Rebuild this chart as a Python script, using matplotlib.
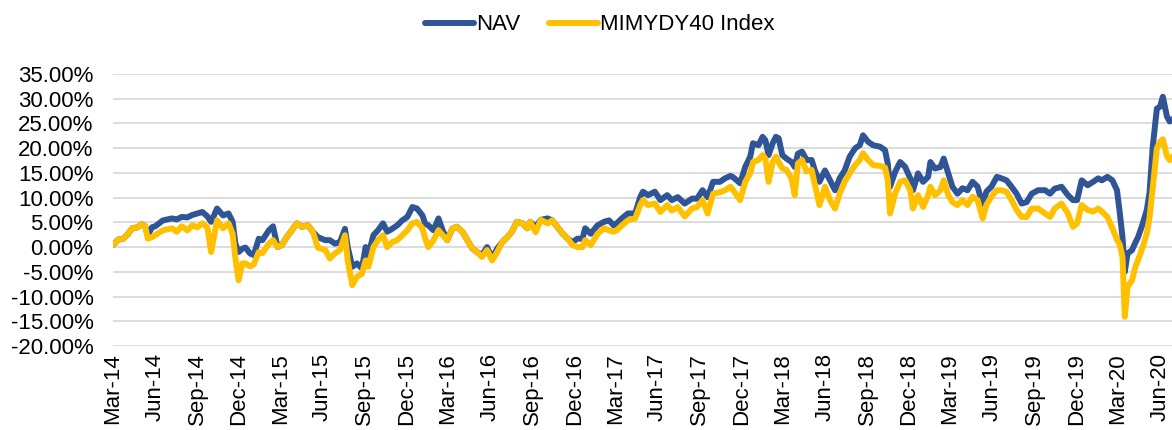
import matplotlib
matplotlib.use("Agg")
import matplotlib.pyplot as plt
import matplotlib.dates as mdates
from matplotlib.ticker import MultipleLocator, FuncFormatter
import pandas as pd

plt.rcParams['font.family'] = ['Liberation Sans', 'DejaVu Sans']

dates = [
    "2014-03-01", "2014-03-12", "2014-03-23", "2014-04-03", "2014-04-12", "2014-04-23",
    "2014-05-03", "2014-05-10", "2014-05-16", "2014-05-25", "2014-06-01", "2014-06-18",
    "2014-07-08", "2014-07-18", "2014-07-29", "2014-08-10", "2014-08-21", "2014-09-01",
    "2014-09-12", "2014-09-23", "2014-10-01", "2014-10-14", "2014-10-27", "2014-11-08",
    "2014-11-17", "2014-11-23", "2014-11-30", "2014-12-08", "2014-12-15", "2014-12-25",
    "2015-01-02", "2015-01-13", "2015-01-21", "2015-02-04", "2015-02-13", "2015-02-23",
    "2015-03-04", "2015-03-15", "2015-04-06", "2015-04-17", "2015-04-30", "2015-05-11",
    "2015-05-22", "2015-06-07", "2015-06-17", "2015-06-28", "2015-07-09", "2015-07-20",
    "2015-07-26", "2015-08-05", "2015-08-15", "2015-08-26", "2015-09-03", "2015-09-09",
    "2015-09-20", "2015-09-30", "2015-10-11", "2015-10-20", "2015-10-31", "2015-11-11",
    "2015-11-22", "2015-12-03", "2015-12-14", "2015-12-24", "2016-01-05", "2016-01-11",
    "2016-01-18", "2016-01-29", "2016-02-09", "2016-02-18", "2016-02-28", "2016-03-10",
    "2016-03-20", "2016-04-01", "2016-04-12", "2016-04-23", "2016-05-03", "2016-05-14",
    "2016-05-25", "2016-06-05", "2016-06-16", "2016-06-27", "2016-07-08", "2016-07-18",
    "2016-07-29", "2016-08-10", "2016-08-21", "2016-08-27", "2016-09-08", "2016-09-19",
    "2016-10-04", "2016-10-14", "2016-10-25", "2016-11-06", "2016-11-17", "2016-11-27",
    "2016-12-08", "2016-12-19", "2016-12-25", "2017-01-06", "2017-01-21", "2017-02-04",
    "2017-02-15", "2017-02-25", "2017-03-04", "2017-03-15", "2017-03-28", "2017-04-13",
    "2017-04-24", "2017-04-30", "2017-05-11", "2017-05-26", "2017-06-07", "2017-06-22",
    "2017-07-02", "2017-07-15", "2017-07-30", "2017-08-15", "2017-08-26", "2017-09-07",
    "2017-09-18", "2017-09-30", "2017-10-15", "2017-10-26", "2017-11-07", "2017-11-13",
    "2017-11-28", "2017-12-09", "2017-12-20", "2017-12-26", "2018-01-07", "2018-01-16",
    "2018-01-22", "2018-01-29", "2018-02-07", "2018-02-14", "2018-02-20", "2018-02-28",
    "2018-03-09", "2018-03-20", "2018-03-27", "2018-04-03", "2018-04-12", "2018-04-22",
    "2018-05-03", "2018-05-10", "2018-05-20", "2018-06-01", "2018-06-12", "2018-06-23",
    "2018-07-03", "2018-07-14", "2018-07-25", "2018-08-06", "2018-08-16", "2018-08-23",
    "2018-09-03", "2018-09-14", "2018-09-29", "2018-10-10", "2018-10-16", "2018-10-21",
    "2018-11-01", "2018-11-12", "2018-11-23", "2018-12-04", "2018-12-10", "2018-12-21",
    "2019-01-01", "2019-01-12", "2019-01-17", "2019-01-27", "2019-02-08", "2019-02-15",
    "2019-02-25", "2019-03-06", "2019-03-17", "2019-03-28", "2019-04-08", "2019-04-19",
    "2019-04-30", "2019-05-11", "2019-05-19", "2019-05-30", "2019-06-11", "2019-06-21",
    "2019-07-02", "2019-07-13", "2019-07-24", "2019-08-04", "2019-08-15", "2019-08-26",
    "2019-09-09", "2019-09-24", "2019-10-05", "2019-10-15", "2019-10-30", "2019-11-13",
    "2019-11-24", "2019-12-03", "2019-12-13", "2019-12-26", "2020-01-07", "2020-01-18",
    "2020-01-26", "2020-02-07", "2020-02-18", "2020-02-28", "2020-03-05", "2020-03-11",
    "2020-03-16", "2020-03-22", "2020-04-01", "2020-04-07", "2020-04-14", "2020-04-24",
    "2020-05-03", "2020-05-09", "2020-05-16", "2020-05-25", "2020-06-01", "2020-06-07",
    "2020-06-16", "2020-06-22", "2020-06-30",
]

nav = [
    0.4, 1.5, 1.7, 2.7, 3.8, 4.0,
    4.6, 4.2, 2.4, 4.0, 4.2, 5.4,
    5.8, 5.6, 6.1, 6.0, 6.5, 6.8,
    7.1, 6.2, 5.1, 7.8, 6.4, 6.8,
    5.1, 0.7, -1.0, -0.3, -0.1, -1.3,
    -1.6, 1.7, 1.4, 3.4, 4.2, 0.0,
    0.4, 2.0, 4.8, 4.1, 4.4, 3.1,
    2.0, 1.4, 1.4, 0.7, 1.0, 3.7,
    0.0, -4.0, -3.3, -4.3, 0.0, -1.6,
    2.4, 3.4, 4.8, 3.1, 3.7, 4.4,
    5.4, 6.1, 8.1, 7.8, 6.4, 4.7,
    4.4, 3.4, 5.8, 3.4, 1.4, 3.7,
    4.1, 3.1, 1.4, -0.3, -1.0, -1.6,
    0.0, -2.3, -0.3, 1.0, 2.0, 3.1,
    5.1, 4.8, 3.8, 5.1, 4.1, 5.5,
    5.8, 5.4, 4.1, 2.7, 1.7, 1.0,
    1.7, 1.7, 3.8, 2.7, 4.4, 5.1,
    5.4, 4.4, 4.8, 5.8, 6.8, 6.8,
    10.1, 11.2, 10.5, 11.2, 9.5, 10.5,
    9.5, 10.1, 8.8, 9.8, 9.8, 11.5,
    10.1, 13.2, 13.2, 13.9, 14.4, 14.1,
    12.9, 16.2, 18.3, 21.0, 20.6, 22.3,
    21.6, 18.6, 21.0, 22.3, 22.0, 18.6,
    17.9, 17.2, 16.2, 18.9, 19.3, 17.6,
    17.6, 15.5, 13.2, 15.5, 13.5, 11.5,
    13.9, 15.5, 18.3, 20.0, 20.6, 22.6,
    21.3, 20.6, 20.3, 19.6, 16.9, 12.2,
    15.2, 17.2, 16.2, 13.9, 11.5, 14.9,
    13.2, 14.2, 17.2, 15.9, 16.2, 17.9,
    14.9, 12.2, 10.8, 11.9, 11.5, 13.2,
    12.2, 8.5, 11.2, 12.2, 14.2, 13.9,
    13.5, 12.2, 10.8, 8.8, 9.1, 10.8,
    11.5, 11.5, 10.8, 11.8, 12.2, 10.5,
    9.5, 9.5, 13.5, 12.5, 13.2, 13.9,
    13.5, 14.2, 13.5, 11.5, 7.0, 2.0,
    -5.0, -1.3, -0.6, 0.7, 2.0, 4.7,
    7.5, 11.0, 20.3, 28.0, 28.4, 30.4,
    26.4, 25.4, 26.0,
]

index = [
    0.4, 1.5, 1.7, 2.7, 3.8, 4.0,
    4.6, 4.2, 1.7, 2.0, 2.4, 3.4,
    3.8, 3.1, 4.2, 3.4, 4.4, 4.0,
    4.8, 4.0, -1.0, 5.4, 3.8, 4.8,
    2.7, -2.3, -6.7, -3.3, -3.3, -3.9,
    -3.5, -1.0, -1.2, 0.7, 1.4, 0.0,
    0.4, 2.0, 4.8, 4.1, 4.4, 3.1,
    -0.1, -0.6, -2.3, -1.3, -0.6, 2.4,
    -2.7, -7.7, -6.0, -5.4, -2.7, -4.0,
    0.0, 1.4, 2.4, 0.0, 1.0, 1.4,
    2.4, 3.4, 4.8, 5.1, 3.8, 1.7,
    0.0, 1.4, 3.4, 2.4, 1.4, 3.7,
    4.1, 3.1, 1.4, -0.3, -1.0, -2.0,
    -0.6, -2.7, -1.0, 1.0, 2.0, 3.1,
    5.1, 4.8, 3.8, 5.1, 3.0, 5.5,
    4.8, 5.4, 4.1, 2.7, 1.7, 0.4,
    0.0, 0.0, 1.4, 0.4, 2.7, 3.8,
    3.4, 3.1, 3.4, 4.4, 5.4, 5.8,
    8.5, 9.5, 8.5, 8.8, 7.1, 8.5,
    7.4, 8.1, 6.2, 7.8, 8.1, 9.5,
    6.8, 10.8, 11.1, 11.5, 12.2, 11.5,
    9.5, 13.2, 14.9, 17.2, 17.6, 18.6,
    17.9, 13.2, 17.2, 18.3, 17.2, 15.9,
    15.6, 13.9, 10.5, 16.9, 17.6, 15.3,
    15.6, 12.6, 8.5, 12.2, 9.5, 7.8,
    10.8, 13.2, 14.9, 16.6, 17.6, 19.0,
    17.6, 16.6, 16.4, 16.1, 13.5, 6.8,
    10.8, 13.2, 13.5, 11.5, 7.8, 10.5,
    8.1, 10.5, 12.2, 10.5, 11.5, 13.5,
    10.5, 9.1, 8.5, 9.5, 8.5, 10.2,
    9.5, 5.8, 8.5, 10.2, 11.5, 11.5,
    11.2, 9.5, 7.5, 6.1, 6.1, 7.8,
    7.8, 6.8, 6.1, 7.8, 8.8, 6.8,
    4.1, 4.8, 8.5, 7.5, 7.2, 7.8,
    7.2, 6.1, 3.8, 1.5, 0.5, -2.0,
    -14.1, -8.0, -6.7, -4.3, -2.6, 0.0,
    2.7, 6.0, 12.0, 20.0, 21.3, 21.8,
    18.4, 17.6, 18.5,
]

series_names = ["NAV", "MIMYDY40 Index"]
series_colors = ["#2F5597", "#FFC000"]

d = pd.to_datetime(dates)

W, H = 1172, 430
fig = plt.figure(figsize=(W / 100, H / 100), dpi=100)
ax = fig.add_axes([113 / W, 1 - 346 / H, 1 - 113 / W, (346 - 74) / H])

for vals, name, col in zip([nav, index], series_names, series_colors):
    ax.plot(d, vals, color=col, lw=4.3, label=name,
            solid_joinstyle='round', solid_capstyle='round')

ax.set_ylim(-20, 35)
ax.yaxis.set_major_locator(MultipleLocator(5))
ax.yaxis.set_major_formatter(FuncFormatter(lambda v, p: f"{v:.2f}%"))
ax.set_xlim(pd.Timestamp("2014-03-01"), pd.Timestamp("2020-06-27"))
ax.xaxis.set_major_locator(mdates.MonthLocator(bymonth=[3, 6, 9, 12]))
ax.xaxis.set_major_formatter(mdates.DateFormatter("%b-%y"))
for lab in ax.get_xticklabels():
    lab.set_rotation(90)

ax.grid(axis='y', color='#D9D9D9', lw=1.3)
ax.grid(axis='x', visible=False)
ax.set_axisbelow(True)
for s in ax.spines.values():
    s.set_visible(False)
ax.tick_params(length=0, labelsize=16, colors='black')
ax.tick_params(axis='y', pad=14)
ax.tick_params(axis='x', pad=5)

fig.legend(loc='center', bbox_to_anchor=(600 / W, 1 - 25 / H), ncol=2, frameon=False,
           fontsize=16, handlelength=2.2, columnspacing=1.3, handletextpad=0.1)

fig.savefig("out.png", dpi=100)
